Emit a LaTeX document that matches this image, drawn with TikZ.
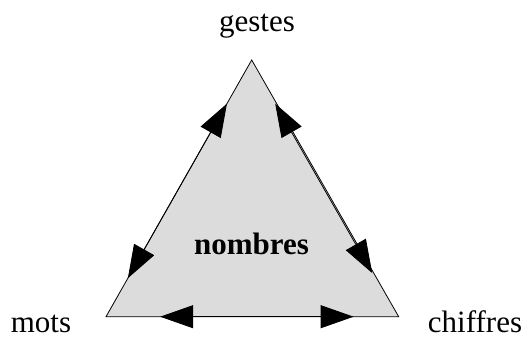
\documentclass[tikz,border=0pt]{standalone}
\usepackage{fontspec}
\setmainfont{Liberation Serif}
\usetikzlibrary{arrows.meta,calc}
\definecolor{trifill}{RGB}{220,220,220}
\tikzset{
  lbl/.style={anchor=base, inner sep=0pt, font=\fontsize{31}{36}\selectfont},
  edge/.style={draw=black, line width=0.8pt},
  dbl/.style={line width=0.8pt, {Triangle[length=33pt,width=23pt]}-{Triangle[length=33pt,width=23pt]}}
}
\begin{document}
\begin{tikzpicture}[x=1pt,y=-1pt]
\useasboundingbox (0,0) rectangle (526,338);
\coordinate (T) at (251.7,60);
\coordinate (L) at (106,316.7);
\coordinate (R) at (398.7,316.7);
\fill[trifill] (T) -- (L) -- (R) -- cycle;
\draw[edge, line join=miter] (T) -- (L) -- (R) -- cycle;
\coordinate (l1) at ($(T)!0.17!(L)$);
\coordinate (l2) at ($(T)!0.85!(L)$);
\coordinate (r1) at ($(T)!0.17!(R)$);
\coordinate (r2) at ($(T)!0.83!(R)$);
\coordinate (b1) at ($(L)!0.185!(R)$);
\coordinate (b2) at ($(L)!0.846!(R)$);
\draw[dbl] (l1) -- (l2);
\draw[dbl, transform canvas={xshift=-1.5pt}] (r1) -- (r2);
\draw[dbl] (b1) -- (b2);
\node[lbl] (gestes) at (257,31) {gestes};
\node[lbl] (mots) at (41,332) {mots};
\node[lbl] (chiffres) at (475,332) {chiffres};
\node[lbl, font=\fontsize{31}{36}\selectfont\bfseries] (nombres) at (251.5,254) {nombres};
\end{tikzpicture}
\end{document}
